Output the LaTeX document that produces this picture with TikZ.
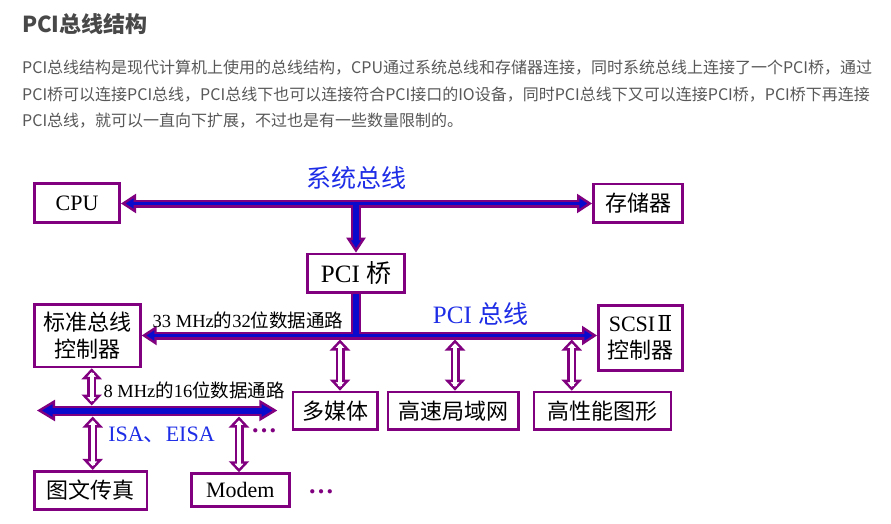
\documentclass[tikz,border=0pt]{standalone}
\usepackage{fontspec}
\setmainfont{Liberation Serif}
\newfontfamily\cjk{Noto Sans CJK SC}
\newfontfamily\webfont{Noto Sans CJK SC}
\newfontfamily\romannum{DejaVu Serif}
\usepackage{tikz}
\usetikzlibrary{arrows.meta,calc}
\definecolor{pciviolet}{RGB}{128,0,128}
\definecolor{pciblue}{RGB}{10,10,205}
\definecolor{pcilabel}{RGB}{30,45,230}
\definecolor{webgray}{RGB}{88,88,88}
\definecolor{webdark}{RGB}{72,72,72}

\begin{document}
\begin{tikzpicture}[x=1pt,y=-1pt,
  box/.style={draw=pciviolet,line width=2.6pt,fill=white,inner sep=0pt,align=center,
    font=\fontsize{22}{27.5}\selectfont},
  buslabel/.style={text=pcilabel,inner sep=0pt,font=\fontsize{25}{25}\selectfont},
  note/.style={anchor=west,inner sep=0pt,font=\fontsize{18.5}{18.5}\selectfont},
  dots/.style={text=pciviolet,inner sep=0pt,font=\bfseries\fontsize{26}{26}\selectfont},
  webline/.style={anchor=base west,inner sep=0pt,text=webgray,font=\webfont\fontsize{16}{16}\selectfont},
  bustip/.tip={Triangle[length=15pt,width=19pt,line width=2.4pt,fill=pciblue]},
  isatip/.tip={Triangle[length=18pt,width=21pt,line width=2.4pt,fill=pciblue]},
  linktip/.tip={Triangle[length=11pt,width=20pt,line width=2.4pt,fill=white]},
  bus/.style={pciviolet,line width=8pt,bustip-bustip,
    postaction={draw,pciblue,line width=3.5pt,arrows=-,shorten <=9pt,shorten >=9pt}},
  isabus/.style={pciviolet,line width=10pt,isatip-isatip,
    postaction={draw,pciblue,line width=6pt,arrows=-,shorten <=11pt,shorten >=11pt}},
  stem/.style={pciviolet,line width=10pt,-bustip,shorten <=2pt,
    postaction={draw,pciblue,line width=6pt,arrows=-,shorten <=0pt,shorten >=9pt}},
  stemplain/.style={pciviolet,line width=10pt,shorten >=2pt,
    postaction={draw,pciblue,line width=6pt,shorten >=0pt}},
  link/.style={pciviolet,line width=9pt,linktip-linktip,
    postaction={draw,white,line width=3.8pt,arrows=-,shorten <=5pt,shorten >=5pt}}
]
  \fill[white] (0,0) rectangle (891,524);

  \node[anchor=base west,inner sep=0pt,text=webdark,font=\webfont\bfseries\fontsize{22}{22}\selectfont]
    (title) at (22,32.3) {PCI总线结构};
  \node[webline] (line1) at (22,73.8) {PCI总线结构是现代计算机上使用的总线结构，CPU通过系统总线和存储器连接，同时系统总线上连接了一个PCI桥，通过};
  \node[webline] (line2) at (22,100.2) {PCI桥可以连接PCI总线，PCI总线下也可以连接符合PCI接口的IO设备，同时PCI总线下又可以连接PCI桥，PCI桥下再连接};
  \node[webline] (line3) at (22,126.6) {PCI总线，就可以一直向下扩展，不过也是有一些数量限制的。};

  \node[box,minimum width=85.4,minimum height=39.4] (cpu) at (77,203) {CPU};
  \node[box,minimum width=89.4,minimum height=38.4] (mem) at (638,203) {\cjk 存储器};
  \node[box,minimum width=97.4,minimum height=38.7,font=\fontsize{25}{25}\selectfont] (pcib) at (356,273.3) {PCI {\cjk 桥}};
  \node[box,minimum width=105.8,minimum height=62.4] (std) at (87.5,335.8) {\cjk 标准总线\\\cjk 控制器};
  \node[box,minimum width=84.4,minimum height=65] (scsi) at (640.5,337.9) {SCSI\kern2pt{\romannum Ⅱ}\\\cjk 控制器};
  \node[box,minimum width=84.7,minimum height=37.7] (mm) at (335.3,410.8) {\cjk 多媒体};
  \node[box,minimum width=130.7,minimum height=37.7] (lan) at (453.3,410.8) {\cjk 高速局域网};
  \node[box,minimum width=137,minimum height=37.4] (gfx) at (602.5,410.7) {\cjk 高性能图形};
  \node[box,minimum width=112.4,minimum height=38.1] (fax) at (90.8,490.3) {\cjk 图文传真};
  \node[box,minimum width=98.1,minimum height=32.8] (modem) at (240.3,490) {Modem};

  \coordinate (sysj) at (356,203.5);
  \coordinate (pcij) at (356,335.5);
  \coordinate (isal) at (37,410.5);
  \coordinate (isar) at (277.3,410.5);
  \coordinate (isaj) at (91.7,405.5);
  \coordinate (mmj) at (340,339.5);
  \coordinate (lanj) at (455,339.5);
  \coordinate (gfxj) at (571.7,339.5);
  \coordinate (faxj) at (92.7,416.5);
  \coordinate (modemj) at (239,416.5);

  \draw[bus] (cpu.east |- sysj) -- (mem.west |- sysj);
  \draw[stem] (sysj) -- (pcib.north);
  \draw[bus] (std.east |- pcij) -- (scsi.west |- pcij);
  \draw[stemplain] (pcib.south) -- (pcij);
  \draw[link] (mmj) -- (mmj |- mm.north);
  \draw[link] (lanj) -- (lanj |- lan.north);
  \draw[link] (gfxj) -- (gfxj |- gfx.north);
  \draw[link] (isaj |- std.south) -- (isaj);
  \draw[isabus] (isal) -- (isar);
  \draw[link] (faxj) -- (faxj |- fax.north);
  \draw[link] (modemj) -- (modemj |- modem.north);

  \node[buslabel] (syslabel) at (356,177.5) {\cjk 系统总线};
  \node[buslabel] (pcilabel) at (480.5,314) {PCI {\cjk 总线}};
  \node[note] (pcinote) at (152.5,320) {33 MHz{\cjk 的}32{\cjk 位数据通路}};
  \node[note] (isanote) at (103.3,390) {8 MHz{\cjk 的}16{\cjk 位数据通路}};
  \node[buslabel,font=\fontsize{22}{22}\selectfont] (isalabel) at (161.5,434.5) {ISA{\cjk 、}EISA};
  \node[dots] (isadots) at (264,431) {…};
  \node[dots] (moredots) at (321,491.7) {…};
\end{tikzpicture}
\end{document}
